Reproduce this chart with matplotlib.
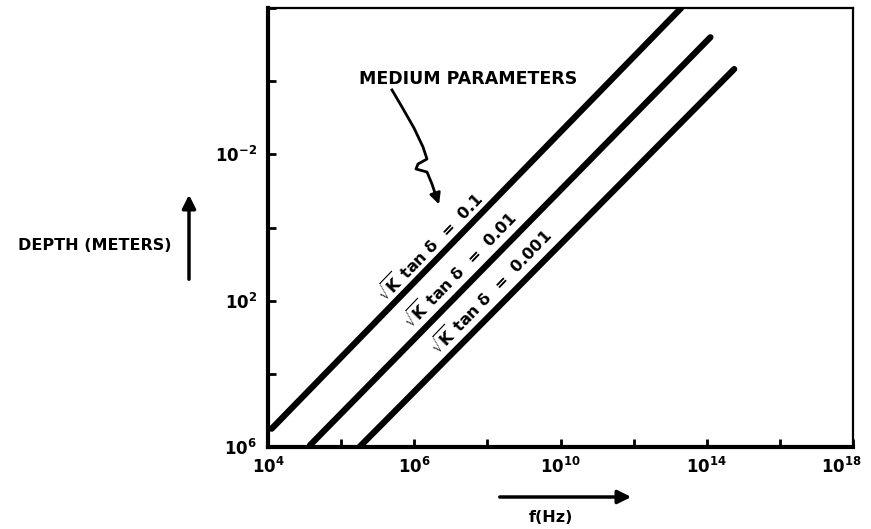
import matplotlib
matplotlib.use('Agg')
import matplotlib.pyplot as plt
import matplotlib.transforms as mtransforms
from matplotlib.lines import Line2D
import numpy as np

plt.rcParams['font.family'] = ['DejaVu Sans']
plt.rcParams['mathtext.fontset'] = 'dejavusans'
plt.rcParams['mathtext.default'] = 'bf'

# each line given by its two ends, in log10 units
line_labels = ['0.1', '0.01', '0.001']
log_f_start = [2.1, 3.15, 4.5]
log_f_end = [13.3, 14.1, 14.75]
log_depth_start = [5.5, 5.95, 6.0]
log_depth_end = [-6.0, -5.2, -4.33]

x_ticks = [2, 4, 6, 8, 10, 12, 14, 16, 18]
x_tick_labels = ['$10^{4}$', '', '$10^{6}$', '', '$10^{10}$', '', '$10^{14}$', '', '$10^{18}$']
y_ticks = [6, 4, 2, 0, -2, -4, -6]
y_tick_labels = ['$10^{6}$', '', '$10^{2}$', '', '$10^{-2}$', '', '']

W, H = 871, 529


def px(x, y):
    # pixel position -> figure fraction
    return x / W, 1 - y / H


fig = plt.figure(figsize=(W / 100, H / 100), dpi=100)
ax = fig.add_axes([268 / W, 1 - 447 / H, (853 - 268) / W, (447 - 8) / H])

for i in range(len(line_labels)):
    xs = 10.0 ** np.array([log_f_start[i], log_f_end[i]])
    ys = 10.0 ** np.array([log_depth_start[i], log_depth_end[i]])
    ax.plot(xs, ys, color='black', lw=4.5, solid_capstyle='round')

ax.set_xscale('log')
ax.set_yscale('log')
ax.set_xlim(1e2, 1e18)
ax.set_ylim(1e6, 1e-6)
ax.set_xticks(10.0 ** np.array(x_ticks))
ax.set_xticklabels(x_tick_labels)
ax.set_yticks(10.0 ** np.array(y_ticks))
ax.set_yticklabels(y_tick_labels)
ax.minorticks_off()
ax.tick_params(direction='in', length=6, width=2, labelsize=12, pad=7)
ax.tick_params(axis='y', pad=8)

# last x label sits at the very edge of the figure, nudge it left a bit
last = ax.get_xticklabels()[-1]
last.set_transform(last.get_transform() +
                   mtransforms.ScaledTranslation(-8 / 72, 0, fig.dpi_scale_trans))

for side in ['left', 'bottom']:
    ax.spines[side].set_linewidth(3)
for side in ['top', 'right']:
    ax.spines[side].set_linewidth(1.6)

# labels along the lines
centers = [(430, 247), (460, 270), (491, 292)]
for lab, (cx, cy) in zip(line_labels, centers):
    fig.text(*px(cx, cy), r'$\sqrt{K}$ tan $\delta$  =  ' + lab, rotation=46,
             rotation_mode='anchor', ha='center', va='center',
             fontsize=11.5, fontweight='bold')

fig.text(*px(468, 79), 'MEDIUM PARAMETERS', ha='center', va='center',
         fontsize=12.5, fontweight='bold')

# squiggly pointer
pts = [(392, 90), (402, 107), (414, 128), (423, 147), (427, 159),
       (418, 164), (416, 169), (427, 172), (432, 184), (435, 193)]
fx = [px(x, y)[0] for x, y in pts]
fy = [px(x, y)[1] for x, y in pts]
fig.add_artist(Line2D(fx, fy, color='black', lw=2, transform=fig.transFigure))
ax.annotate('', xy=px(440, 207), xytext=px(434, 190), xycoords='figure fraction',
            textcoords='figure fraction',
            arrowprops=dict(arrowstyle='-|>', color='black', lw=2, mutation_scale=16))

# axis titles with arrows
fig.text(*px(95, 245), 'DEPTH (METERS)', ha='center', va='center',
         fontsize=11.5, fontweight='bold')
ax.annotate('', xy=px(189, 192), xytext=px(189, 282), xycoords='figure fraction',
            textcoords='figure fraction',
            arrowprops=dict(arrowstyle='-|>', color='black', lw=2.5, mutation_scale=20))

fig.text(*px(551, 518), 'f(Hz)', ha='center', va='center',
         fontsize=11.5, fontweight='bold')
ax.annotate('', xy=px(634, 497), xytext=px(497, 497), xycoords='figure fraction',
            textcoords='figure fraction',
            arrowprops=dict(arrowstyle='-|>', color='black', lw=2.5, mutation_scale=20))

fig.savefig('out.png', dpi=100)
